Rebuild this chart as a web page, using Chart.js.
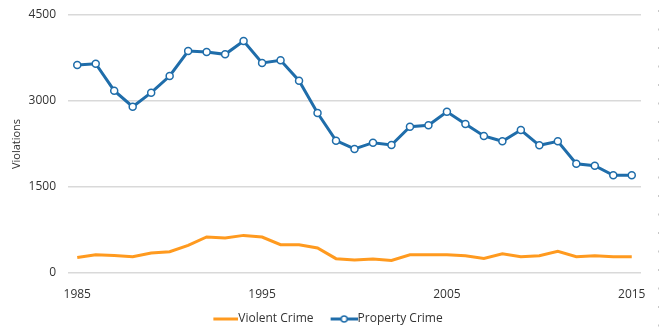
<!DOCTYPE html>
<html>
<head>
<meta charset="utf-8">
<script src="https://cdn.jsdelivr.net/npm/chart.js@4/dist/chart.umd.min.js"></script>
<style>
  html, body { margin: 0; padding: 0; background: #fff; }
  #wrap { width: 660px; height: 335px; }
</style>
</head>
<body>
<div id="wrap"><canvas id="chart" width="660" height="335"></canvas></div>
<script>
const years = [1985, 1986, 1987, 1988, 1989, 1990, 1991, 1992, 1993, 1994,
  1995, 1996, 1997, 1998, 1999, 2000, 2001, 2002, 2003, 2004,
  2005, 2006, 2007, 2008, 2009, 2010, 2011, 2012, 2013, 2014, 2015];

const violentCrime = [272, 319, 305, 284, 349, 371, 482, 628, 610, 656,
  628, 494, 494, 436, 250, 227, 244, 220, 319, 319,
  319, 300, 255, 337, 284, 300, 377, 284, 300, 284, 284];

const propertyCrime = [3628, 3650, 3180, 2900, 3145, 3436, 3872, 3855, 3814, 4047,
  3663, 3710, 3354, 2791, 2308, 2163, 2273, 2233, 2552, 2576,
  2813, 2599, 2390, 2297, 2494, 2227, 2297, 1906, 1871, 1704, 1704];

const yTicks = [0, 1500, 3000, 4500];
const xTickYears = [1985, 1995, 2005, 2015];

const orange = "#FF9A1F";
const blue = "#1F6DAA";
const textColor = "#333333";
const fontFamily = "'Open Sans', sans-serif";

// legend swatches: plain line, and line with a hollow circle
function makeSwatch(withMarker, color) {
  const c = document.createElement("canvas");
  c.width = 40;
  c.height = 10;
  const g = c.getContext("2d");
  g.strokeStyle = color;
  g.lineWidth = 3;
  g.beginPath();
  g.moveTo(withMarker ? 13 : 15, 5);
  g.lineTo(40, 5);
  g.stroke();
  if (withMarker) {
    g.beginPath();
    g.arc(26.5, 5, 3, 0, Math.PI * 2);
    g.fillStyle = "#fff";
    g.fill();
    g.lineWidth = 1.5;
    g.stroke();
  }
  return c;
}
const violentSwatch = makeSwatch(false, orange);
const propertySwatch = makeSwatch(true, blue);

// faint dashed frame line at the right edge
const edgeLine = {
  id: "edgeLine",
  afterDraw(chart) {
    const ctx = chart.ctx;
    ctx.save();
    ctx.strokeStyle = "#c8c8c8";
    ctx.lineWidth = 1;
    ctx.setLineDash([2, 16.5]);
    ctx.beginPath();
    ctx.moveTo(658.5, 10);
    ctx.lineTo(658.5, 335);
    ctx.stroke();
    ctx.restore();
  },
};

const ctx = document.getElementById("chart").getContext("2d");
new Chart(ctx, {
  type: "line",
  data: {
    labels: years,
    datasets: [
      {
        label: "Violent Crime",
        data: violentCrime,
        borderColor: orange,
        backgroundColor: orange,
        borderWidth: 3,
        pointRadius: 0,
        tension: 0,
        fill: false,
      },
      {
        label: "Property Crime",
        data: propertyCrime,
        borderColor: blue,
        backgroundColor: "#fff",
        borderWidth: 3,
        pointRadius: 3.5,
        pointBorderWidth: 1.5,
        pointBorderColor: blue,
        pointBackgroundColor: "#fff",
        tension: 0,
        fill: false,
      },
    ],
  },
  options: {
    responsive: false,
    animation: false,
    layout: {
      padding: { left: 6, right: 19, top: 15, bottom: 0 },
    },
    plugins: {
      tooltip: { enabled: false },
      legend: {
        position: "bottom",
        labels: {
          usePointStyle: true,
          pointStyleWidth: 28,
          boxHeight: 10,
          padding: 10,
          color: textColor,
          font: { family: fontFamily, size: 12 },
          generateLabels: function (chart) {
            return chart.data.datasets.map((ds, i) => ({
              text: ds.label,
              datasetIndex: i,
              pointStyle: i === 0 ? violentSwatch : propertySwatch,
              fillStyle: ds.borderColor,
              strokeStyle: ds.borderColor,
              lineWidth: 0,
              fontColor: textColor,
              hidden: false,
            }));
          },
        },
      },
    },
    scales: {
      x: {
        type: "category",
        offset: true,
        afterFit: function (scale) {
          scale.height = 30;
        },
        grid: { display: false, drawTicks: false },
        border: { display: false },
        ticks: {
          autoSkip: false,
          maxRotation: 0,
          padding: 14,
          color: textColor,
          font: { family: fontFamily, size: 12 },
          callback: function (value, index) {
            const yr = years[index];
            return xTickYears.includes(yr) ? String(yr) : "";
          },
        },
      },
      y: {
        min: 0,
        max: 4500,
        afterBuildTicks: function (scale) {
          scale.ticks = yTicks.map((v) => ({ value: v }));
        },
        afterFit: function (scale) {
          scale.width = 62;
          scale.paddingTop = 0;
          scale.paddingBottom = 0;
        },
        grid: { color: "#d9d9d9", lineWidth: 1.5, drawTicks: false },
        border: { display: false },
        ticks: {
          padding: 12,
          color: textColor,
          font: { family: fontFamily, size: 12 },
          callback: function (value) {
            return String(value);
          },
        },
        title: {
          display: true,
          text: "Violations",
          color: textColor,
          font: { family: fontFamily, size: 11 },
          padding: { top: 4, bottom: 4 },
        },
      },
    },
  },
  plugins: [edgeLine],
});
</script>
</body>
</html>
